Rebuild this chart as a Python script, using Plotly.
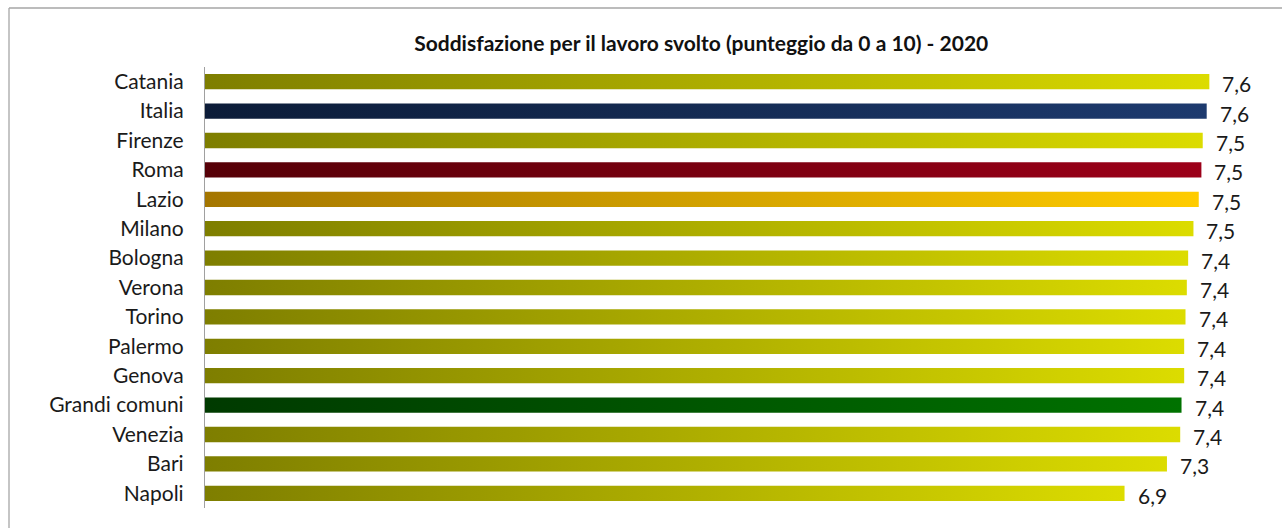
import plotly.graph_objects as go

# ---- data ----
categories = ["Catania", "Italia", "Firenze", "Roma", "Lazio", "Milano", "Bologna",
              "Verona", "Torino", "Palermo", "Genova", "Grandi comuni", "Venezia",
              "Bari", "Napoli"]
values = [7.58, 7.56, 7.53, 7.52, 7.50, 7.46, 7.42, 7.41, 7.40, 7.39, 7.39,
          7.37, 7.36, 7.26, 6.94]
labels = ["7,6", "7,6", "7,5", "7,5", "7,5", "7,5", "7,4", "7,4", "7,4", "7,4",
          "7,4", "7,4", "7,4", "7,3", "6,9"]
title_text = "Soddisfazione per il lavoro svolto (punteggio da 0 a 10) - 2020"

# gradient (left, right) per category group
grad_city = ("#7E7E00", "#DCDC00")
grad_special = {
    "Italia": ("#0C1C38", "#1D3A6E"),
    "Roma": ("#560007", "#9C0019"),
    "Lazio": ("#A47600", "#FFCC00"),
    "Grandi comuni": ("#003A00", "#007200"),
}

FONT = "Lato, Open Sans, sans-serif"
bar_half = 0.26
fig = go.Figure()
for i, (cat, v) in enumerate(zip(categories, values)):
    c0, c1 = grad_special.get(cat, grad_city)
    fig.add_trace(go.Scatter(
        x=[0, v, v, 0, 0],
        y=[i - bar_half, i - bar_half, i + bar_half, i + bar_half, i - bar_half],
        mode="lines", line=dict(width=0), fill="toself",
        fillgradient=dict(type="horizontal", colorscale=[[0, c0], [1, c1]]),
        hoverinfo="skip", showlegend=False,
    ))
    fig.add_annotation(x=v, y=i, text=labels[i], showarrow=False,
                       xanchor="left", yanchor="middle", xshift=11, yshift=-2,
                       font=dict(family=FONT, size=21, color="#1a1a1a"))

# outer frame (partially outside the window, as in the original)
fig.add_shape(type="line", xref="paper", yref="paper", x0=-0.1849, x1=1.05,
              y0=1.1338, y1=1.1338, line=dict(color="#A6A6A6", width=1.3))
fig.add_shape(type="line", xref="paper", yref="paper", x0=-0.1849, x1=-0.1849,
              y0=1.1338, y1=-0.1, line=dict(color="#A6A6A6", width=1.3))

fig.update_layout(
    width=1282, height=528,
    margin=dict(l=205, r=17, t=67, b=20, autoexpand=False),
    paper_bgcolor="white", plot_bgcolor="white",
    title=dict(text="<b>" + title_text + "</b>", x=0.547, xanchor="center",
               y=0.918, yanchor="middle",
               font=dict(family=FONT, size=21, color="#111111")),
    xaxis=dict(range=[0, 8], showgrid=False, zeroline=False, showline=False,
               showticklabels=False, ticks="", automargin=False),
    yaxis=dict(range=[14.5, -0.5], tickmode="array",
               tickvals=list(range(len(categories))), ticktext=categories,
               showgrid=False, zeroline=False, showline=True, automargin=False,
               linecolor="#A0A0A0", linewidth=1.3,
               ticks="outside", ticklen=16, tickcolor="rgba(0,0,0,0)",
               tickfont=dict(family=FONT, size=21, color="#1a1a1a")),
)

fig.write_html("out.html", config={"displayModeBar": False},
               post_script="document.body.style.margin='0';document.body.style.overflow='hidden';")
